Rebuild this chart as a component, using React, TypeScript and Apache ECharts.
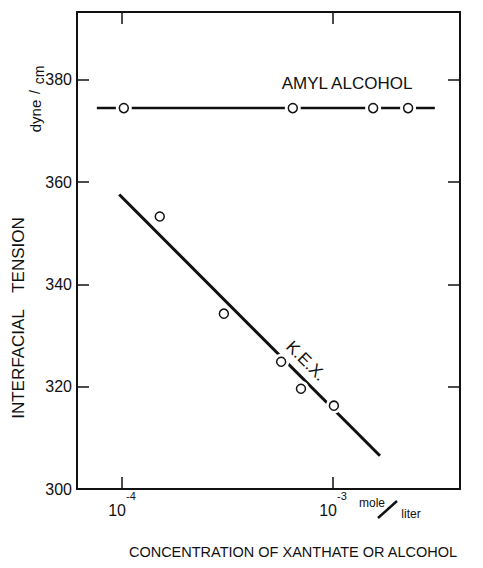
import React, { useEffect, useRef } from 'react';
import * as echarts from 'echarts';

// ---- data ----
const xExponents = [-4, -3];
const yTickValues = [300, 320, 340, 360, 380];

const amylLineX = [7.6e-5, 3.04e-3];
const amylLineY = [374.5, 374.5];
const amylPtsX = [1.02e-4, 6.45e-4, 1.55e-3, 2.27e-3];
const amylPtsY = [374.5, 374.5, 374.5, 374.5];

const kexLineX = [9.7e-5, 1.67e-3];
const kexLineY = [357.6, 306.5];
const kexPtsX = [1.51e-4, 3.04e-4, 5.68e-4, 7.05e-4, 1.01e-3];
const kexPtsY = [353.3, 334.3, 324.9, 319.6, 316.3];

const xMin = 6.12e-5;
const xMax = 4.0e-3;
const yMin = 300;
const yMax = 393.3;

const zip = (xs: number[], ys: number[]) => xs.map((x, i) => [x, ys[i]]);

const INK = '#111';
const FONT = 'Liberation Sans, Arial, Helvetica, sans-serif';

function txt(text: string, x: number, y: number, size: number, rotation = 0, align = 'center') {
  return {
    type: 'text',
    x,
    y,
    rotation,
    silent: true,
    z: 10,
    style: {
      text,
      fill: INK,
      fontSize: size,
      fontFamily: FONT,
      align,
      verticalAlign: 'middle',
      textAlign: align,
      textVerticalAlign: 'middle',
    },
  };
}

export default function App() {
  const ref = useRef<HTMLDivElement>(null);

  useEffect(() => {
    document.body.style.margin = '0';
    if (!ref.current) return;
    const chart = echarts.init(ref.current, null, { renderer: 'svg' });

    const xLabelFormatter = (v: number) => {
      const l = Math.log10(v);
      const r = Math.round(l);
      if (Math.abs(l - r) < 1e-6 && xExponents.includes(r)) return `{b|10}{s|${r}}`;
      return '';
    };
    const yLabelFormatter = (v: number) => (yTickValues.includes(Math.round(v * 1000) / 1000) ? String(v) : '');

    const axisLine = { show: true, onZero: false, lineStyle: { color: INK, width: 2 } };
    const axisTick = { show: true, inside: true, length: 12, lineStyle: { color: INK, width: 1.5 } };

    chart.setOption({
      animation: false,
      backgroundColor: '#fff',
      grid: { left: 77, right: 23, top: 12, bottom: 79, containLabel: false },
      xAxis: [
        {
          type: 'log',
          logBase: 10,
          min: xMin,
          max: xMax,
          position: 'bottom',
          axisLine,
          axisTick,
          splitLine: { show: false },
          minorTick: { show: false },
          axisLabel: {
            show: true,
            margin: 1,
            formatter: xLabelFormatter,
            rich: {
              b: { fontSize: 16, fontFamily: FONT, color: INK, lineHeight: 28, verticalAlign: 'bottom' },
              s: { fontSize: 11, fontFamily: FONT, color: INK, lineHeight: 16, verticalAlign: 'top' },
            },
          },
        },
        {
          type: 'log',
          logBase: 10,
          min: xMin,
          max: xMax,
          position: 'top',
          axisLine,
          axisTick,
          splitLine: { show: false },
          axisLabel: { show: false },
        },
      ],
      yAxis: [
        {
          type: 'value',
          min: yMin,
          max: yMax,
          interval: 20,
          position: 'left',
          axisLine,
          axisTick,
          splitLine: { show: false },
          axisLabel: {
            margin: 5,
            fontSize: 16,
            fontFamily: FONT,
            color: INK,
            formatter: yLabelFormatter,
          },
        },
        {
          type: 'value',
          min: yMin,
          max: yMax,
          interval: 20,
          position: 'right',
          axisLine,
          axisTick,
          splitLine: { show: false },
          axisLabel: { show: false },
        },
      ],
      series: [
        {
          name: 'Amyl alcohol fit',
          type: 'line',
          z: 2,
          data: zip(amylLineX, amylLineY),
          showSymbol: false,
          silent: true,
          lineStyle: { color: INK, width: 2.5 },
        },
        {
          name: 'K.E.X. fit',
          type: 'line',
          z: 2,
          data: zip(kexLineX, kexLineY),
          showSymbol: false,
          silent: true,
          lineStyle: { color: INK, width: 3 },
        },
        {
          name: 'halo',
          type: 'scatter',
          z: 5,
          data: [...zip(amylPtsX, amylPtsY), ...zip(kexPtsX, kexPtsY)],
          symbol: 'circle',
          symbolSize: 16,
          silent: true,
          itemStyle: { color: '#fff', borderWidth: 0, opacity: 1 },
        },
        {
          name: 'Amyl alcohol',
          type: 'scatter',
          z: 6,
          data: zip(amylPtsX, amylPtsY),
          symbol: 'circle',
          symbolSize: 9,
          silent: true,
          itemStyle: { color: '#fff', borderColor: INK, borderWidth: 1.5, opacity: 1 },
        },
        {
          name: 'K.E.X.',
          type: 'scatter',
          z: 6,
          data: zip(kexPtsX, kexPtsY),
          symbol: 'circle',
          symbolSize: 9,
          silent: true,
          itemStyle: { color: '#fff', borderColor: INK, borderWidth: 1.5, opacity: 1 },
        },
      ],
      graphic: [
        txt('AMYL ALCOHOL', 347, 83, 17),
        txt('K.E.X.', 306, 361, 17, -Math.PI / 4),
        txt('INTERFACIAL', 18, 364, 17, Math.PI / 2),
        txt('TENSION', 18, 255, 17, Math.PI / 2),
        txt('dyne', 35, 116, 15, Math.PI / 2),
        txt('/', 35, 92, 14, Math.PI / 2),
        txt('cm', 39, 75, 14, Math.PI / 2),
        txt('CONCENTRATION OF XANTHATE OR ALCOHOL', 293, 552, 14.5),
        txt('mole', 372, 503, 12),
        txt('liter', 411, 514, 12),
        {
          type: 'line',
          silent: true,
          z: 10,
          shape: { x1: 378, y1: 518, x2: 397, y2: 501 },
          style: { stroke: INK, lineWidth: 2.5 },
        },
      ],
    });

    return () => chart.dispose();
  }, []);

  return <div ref={ref} style={{ width: 483, height: 568 }} />;
}
